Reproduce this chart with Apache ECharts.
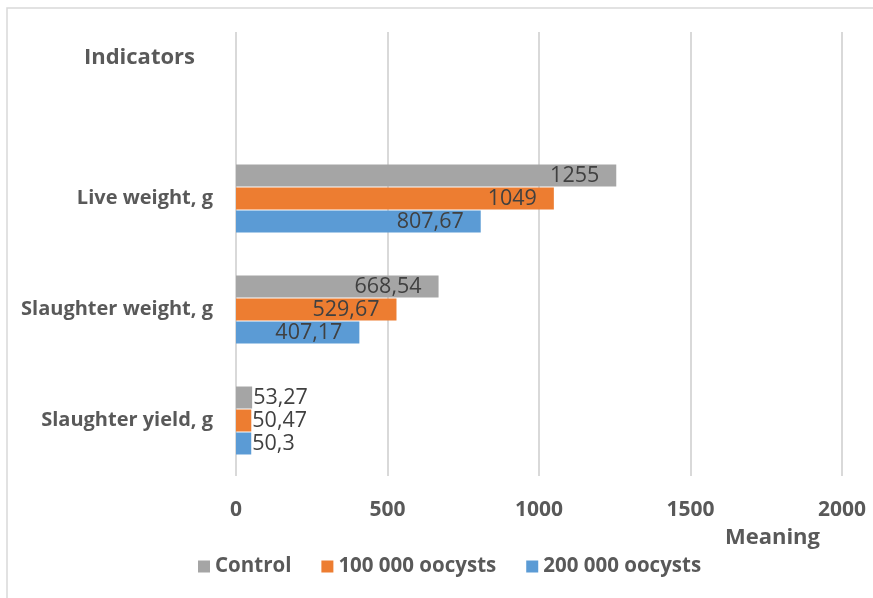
<!DOCTYPE html>
<html>
<head>
<meta charset="utf-8">
<script src="https://cdn.jsdelivr.net/npm/echarts@6/dist/echarts.min.js"></script>
<style>
  html, body { margin: 0; padding: 0; background: #fff; }
  #chart { width: 873px; height: 598px; }
</style>
</head>
<body>
<div id="chart"></div>
<script>
// Categories listed bottom to top; the top band is left empty
const categories = ['Slaughter yield, g', 'Slaughter weight, g', 'Live weight, g', ''];
const seriesNames = ['Control', '100 000 oocysts', '200 000 oocysts'];
const controlValues = [53.27, 668.54, 1255, null];
const oocysts100kValues = [50.47, 529.67, 1049, null];
const oocysts200kValues = [50.3, 407.17, 807.67, null];
const xTicks = [0, 500, 1000, 1500, 2000];
const colors = ['#A5A5A5', '#ED7D31', '#5B9BD5'];

const FONT = 'Open Sans';
const fmt = v => String(v).replace('.', ',');

// Short bars get their label just outside the bar end
function withLabels(values) {
  return values.map(v => {
    if (v == null) return null;
    if (v < 200) {
      return { value: v, label: { position: 'right', distance: 1 } };
    }
    return v;
  });
}

function makeSeries(name, values, color) {
  return {
    name: name,
    type: 'bar',
    data: withLabels(values),
    barWidth: 22,
    barGap: '4.5%',
    itemStyle: { color: color },
    label: {
      show: true,
      position: 'insideRight',
      distance: 17,
      color: '#404040',
      fontFamily: FONT,
      fontSize: 21.5,
      formatter: p => fmt(p.value)
    }
  };
}

const chart = echarts.init(document.getElementById('chart'));
chart.setOption({
  animation: false,
  backgroundColor: '#fff',
  textStyle: { fontFamily: FONT },
  graphic: [{
    type: 'rect',
    shape: { x: 7, y: 8, width: 900, height: 700 },
    style: { fill: 'none', stroke: '#D9D9D9', lineWidth: 1.5 },
    silent: true
  }],
  grid: { left: 236, right: 31, top: 32, bottom: 122, containLabel: false },
  legend: {
    data: seriesNames,
    left: 193,
    top: 551,
    icon: 'rect',
    itemWidth: 12,
    itemHeight: 12,
    itemGap: 30,
    textStyle: { color: '#595959', fontFamily: FONT, fontWeight: 'bold', fontSize: 20.5 }
  },
  xAxis: {
    type: 'value',
    min: 0,
    max: 2000,
    interval: 500,
    name: 'Meaning',
    nameLocation: 'end',
    nameGap: -22,
    nameTextStyle: {
      color: '#595959', fontFamily: FONT, fontWeight: 'bold', fontSize: 22,
      align: 'right', verticalAlign: 'top', padding: [51, 0, 0, 0]
    },
    axisLine: { show: false },
    axisTick: { show: false },
    axisLabel: {
      color: '#595959', fontFamily: FONT, fontWeight: 'bold', fontSize: 21,
      margin: 24,
      formatter: v => xTicks.includes(v) ? String(v) : ''
    },
    splitLine: { show: true, lineStyle: { color: '#D9D9D9', width: 2 } }
  },
  yAxis: {
    type: 'category',
    data: categories,
    name: 'Indicators',
    nameLocation: 'end',
    nameGap: -26,
    nameTextStyle: {
      color: '#595959', fontFamily: FONT, fontWeight: 'bold', fontSize: 22,
      align: 'right', verticalAlign: 'middle', padding: [0, 41, 0, 0]
    },
    axisLine: { show: false },
    axisTick: { show: false },
    axisLabel: {
      color: '#595959', fontFamily: FONT, fontWeight: 'bold', fontSize: 20,
      margin: 23
    }
  },
  series: [
    makeSeries(seriesNames[0], controlValues, colors[0]),
    makeSeries(seriesNames[1], oocysts100kValues, colors[1]),
    makeSeries(seriesNames[2], oocysts200kValues, colors[2])
  ]
});
</script>
</body>
</html>
